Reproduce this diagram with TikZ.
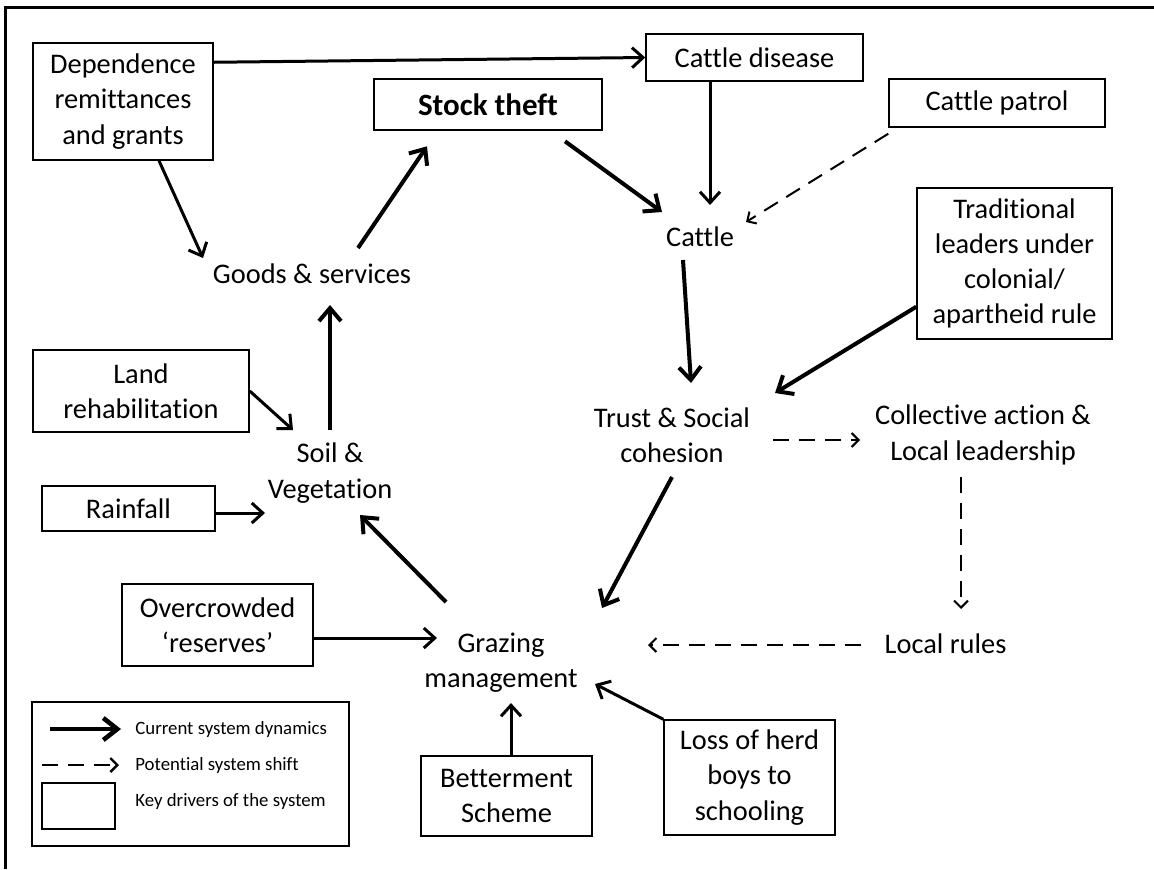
\documentclass[tikz,border=0pt]{standalone}
\usepackage{fontspec}
\setmainfont{Carlito}[Ligatures={TeX,NoCommon}]
\usepackage{tikz}
\usetikzlibrary{arrows.meta, positioning}

\begin{document}
\begin{tikzpicture}[x=0.5pt, y=-0.5pt,
    every node/.style={font=\fontsize{14.2}{17.6}\selectfont},
    driver/.style={draw, line width=0.75pt, align=center, inner sep=0pt},
    factor/.style={align=center, inner sep=0pt},
    legtext/.style={anchor=west, inner sep=3pt, font=\fontsize{9.4}{11}\selectfont},
    dyn/.style={-{Straight Barb[length=6.5pt, width=11pt]}, line width=2pt},
    flow/.style={-{Straight Barb[length=5.5pt, width=10pt]}, line width=1.5pt},
    potential/.style={-{Straight Barb[length=3.5pt, width=7pt]}, line width=1pt, dash pattern=on 8pt off 5pt}]
    \useasboundingbox (0,0) rectangle (1154,869);
    % Rahmen
    \draw[line width=1.5pt] (5,869) -- (5,7) -- (1154,7);

    % Key drivers (boxes)
    \node[driver, minimum width=90pt, minimum height=58.5pt] (dep) at (123,101.5) {Dependence\\remittances\\and grants};
    \node[driver, line width=1.3pt, minimum width=114pt, minimum height=25.5pt,
          font=\fontsize{15.5}{19}\selectfont\bfseries] (stock) at (488,104.5) {Stock theft};
    \node[driver, minimum width=108.5pt, minimum height=23.5pt] (cdis) at (754.5,57.5) {Cattle disease};
    \node[driver, minimum width=108pt, minimum height=24pt] (cpat) at (997,103) {Cattle patrol};
    \node[driver, minimum width=97.5pt, minimum height=75.5pt] (trad) at (1014.5,263.5) {Traditional\\leaders under\\colonial/\\apartheid rule};
    \node[driver, minimum width=108pt, minimum height=41pt] (land) at (141,391) {Land\\rehabilitation};
    \node[driver, minimum width=86.5pt, minimum height=22.5pt] (rain) at (128.5,508.5) {Rainfall};
    \node[driver, minimum width=95.5pt, minimum height=41pt] (over) at (217.5,625) {Overcrowded\\‘reserves’};
    \node[driver, minimum width=85.5pt, minimum height=40pt] (bett) at (506.5,796) {Betterment\\Scheme};
    \node[driver, minimum width=85.5pt, minimum height=57.5pt] (loss) at (749.5,777.5) {Loss of herd\\boys to\\schooling};

    % System components
    \node[factor] (goods) at (312,274) {Goods \& services};
    \node[factor] (cattle) at (700,237) {Cattle};
    \node[factor] (soil) at (330,473) {Soil \&\\Vegetation};
    \node[factor] (trust) at (672,435) {Trust \& Social\\cohesion};
    \node[factor] (coll) at (983,435) {Collective action \&\\Local leadership};
    \node[factor] (local) at (945.5,644) {Local rules};
    \node[factor] (graz) at (501,663) {Grazing\\management};

    % Current dynamics
    \draw[dyn] ([shift={(46,-26)}]goods.center) -- ([shift={(-61,15)}]stock.south);
    \draw[dyn] ([shift={(77,10)}]stock.south) -- ([shift={(-38,-25)}]cattle.center);
    \draw[dyn] ([shift={(-17,23)}]cattle.center) -- ([shift={(19,-52)}]trust.center);
    \draw[dyn] ([shift={(0,-33)}]trad.south west) -- ([shift={(103,-42)}]trust.center);
    \draw[dyn] ([shift={(0,42)}]trust.center) -- ([shift={(101,-55)}]graz.center);
    \draw[dyn] ([shift={(-55,-61)}]graz.center) -- ([shift={(30,42)}]soil.center);
    \draw[dyn] ([shift={(0,-43)}]soil.center) -- ([shift={(18,31)}]goods.center);

    \draw[flow] ([shift={(36,0)}]dep.south) -- ([shift={(-109,-16)}]goods.center);
    \draw[flow] ([shift={(0,20)}]dep.north east) -- (cdis.west);
    \draw[flow] ([shift={(-44.5,0)}]cdis.south) -- ([shift={(10,-32)}]cattle.center);
    \draw[flow] (land.east) -- ([shift={(-37,-43)}]soil.center);
    \draw[flow] ([shift={(0,4.5)}]rain.east) -- ([shift={(-65,40)}]soil.center);
    \draw[flow] ([shift={(0,13)}]over.east) -- ([shift={(-64,-25)}]graz.center);
    \draw[flow] ([shift={(4.5,0)}]bett.north) -- ([shift={(10,40)}]graz.center);
    \draw[flow] (loss.north west) -- ([shift={(94,21)}]graz.center);

    % Potential shifts
    \draw[potential] ([shift={(0,6)}]cpat.south west) -- ([shift={(46,-15)}]cattle.center);
    \draw[potential] ([shift={(101,5)}]trust.center) -- ([shift={(-123,5)}]coll.center);
    \draw[potential] ([shift={(-22,42)}]coll.center) -- ([shift={(15.5,-35)}]local.center);
    \draw[potential] ([shift={(-84.5,1)}]local.center) -- ([shift={(147,-18)}]graz.center);

    % Legende
    \node[draw, line width=0.75pt, minimum width=158.5pt, minimum height=72pt] (legend) at (190.5,774) {};
    \node[draw, line width=0.75pt, minimum width=36.5pt, minimum height=23pt] (keybox) at (78.5,806) {};
    \node[legtext] (lgdyn) at (129,729) {Current system dynamics};
    \node[legtext] (lgpot) at (129,765) {Potential system shift};
    \node[legtext] (lgkey) at (129,801) {Key drivers of the system};
    \draw[dyn, line width=2.3pt, -{Straight Barb[length=7pt, width=11pt]}] ([shift={(-79,0)}]lgdyn.west) -- ([shift={(-8,0)}]lgdyn.west);
    \draw[potential, line width=1.2pt] ([shift={(-87,0)}]lgpot.west) -- ([shift={(-10,0)}]lgpot.west);
\end{tikzpicture}
\end{document}
